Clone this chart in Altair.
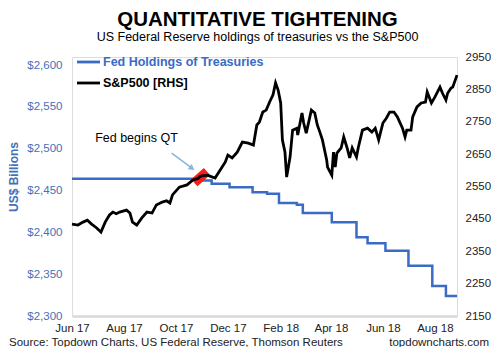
import altair as alt
import pandas as pd

FONT = "Liberation Sans"
BLUE = "#3A6BC5"
LBLUE = "#4470B8"

# Fed holdings of treasuries (US$ bn, left axis) - step series
fed_dates = ["2017-06-01", "2017-10-24", "2017-11-12", "2017-12-03", "2017-12-30",
             "2018-01-16", "2018-01-30", "2018-02-20", "2018-02-27", "2018-04-02",
             "2018-05-01", "2018-05-14", "2018-06-04", "2018-07-01", "2018-07-29",
             "2018-08-14", "2018-08-27"]
fed_values = [2464, 2462, 2458, 2454, 2448,
              2446, 2435, 2433, 2423, 2412,
              2394, 2387, 2378, 2360, 2336,
              2324, 2324]

# S&P500 (right axis)
sp_dates = ["2017-06-01", "2017-06-08", "2017-06-14", "2017-06-19", "2017-06-24", "2017-06-30",
            "2017-07-05", "2017-07-10", "2017-07-15", "2017-07-19", "2017-07-23", "2017-07-27",
            "2017-08-04", "2017-08-08", "2017-08-11", "2017-08-16", "2017-08-22", "2017-08-28",
            "2017-09-03", "2017-09-08", "2017-09-15", "2017-09-20", "2017-09-24", "2017-09-27",
            "2017-10-05", "2017-10-14", "2017-10-21", "2017-10-27", "2017-10-30", "2017-11-07",
            "2017-11-16", "2017-11-22", "2017-11-28", "2017-12-01", "2017-12-06", "2017-12-12",
            "2017-12-18", "2017-12-25", "2017-12-31", "2018-01-04", "2018-01-07", "2018-01-11",
            "2018-01-15", "2018-01-19", "2018-01-23", "2018-01-26", "2018-01-29", "2018-02-01",
            "2018-02-03", "2018-02-06", "2018-02-08", "2018-02-12", "2018-02-15", "2018-02-20",
            "2018-02-21", "2018-02-26", "2018-02-28", "2018-03-03", "2018-03-09", "2018-03-13",
            "2018-03-16", "2018-03-19", "2018-03-22", "2018-03-27", "2018-03-28", "2018-04-02",
            "2018-04-04", "2018-04-06", "2018-04-08", "2018-04-13", "2018-04-16", "2018-04-20",
            "2018-04-23", "2018-04-26", "2018-05-01", "2018-05-03", "2018-05-08", "2018-05-14",
            "2018-05-19", "2018-05-23", "2018-05-27", "2018-06-01", "2018-06-05", "2018-06-09",
            "2018-06-14", "2018-06-18", "2018-06-24", "2018-06-27", "2018-06-29", "2018-07-04",
            "2018-07-06", "2018-07-11", "2018-07-16", "2018-07-21", "2018-07-23", "2018-07-28",
            "2018-08-01", "2018-08-07", "2018-08-10", "2018-08-14", "2018-08-16", "2018-08-20",
            "2018-08-22", "2018-08-27"]
sp_values = [2434, 2431, 2440, 2446, 2434, 2422,
             2409, 2440, 2462, 2471, 2466, 2471,
             2477, 2468, 2440, 2431, 2453, 2471,
             2468, 2493, 2502, 2506, 2499, 2524,
             2548, 2555, 2570, 2575, 2582, 2585,
             2576, 2601, 2626, 2647, 2638, 2656,
             2687, 2684, 2678, 2740, 2749, 2780,
             2786, 2811, 2833, 2870, 2848, 2808,
             2694, 2657, 2579, 2641, 2724, 2730,
             2709, 2777, 2746, 2715, 2786, 2777,
             2740, 2718, 2694, 2632, 2610, 2585,
             2656, 2610, 2653, 2669, 2703, 2669,
             2638, 2669, 2641, 2669, 2724, 2730,
             2718, 2730, 2694, 2746, 2761, 2780,
             2780, 2765, 2730, 2703, 2724, 2724,
             2765, 2796, 2808, 2811, 2842, 2808,
             2826, 2857, 2838, 2817, 2838, 2854,
             2857, 2894]

x_ticks = [(2017, 6), (2017, 8), (2017, 10), (2017, 12), (2018, 2), (2018, 4), (2018, 6), (2018, 8)]
left_ticks = [2300, 2350, 2400, 2450, 2500, 2550, 2600]
right_ticks = [2150, 2250, 2350, 2450, 2550, 2650, 2750, 2850, 2950]

# annotation: QT start marker and arrow (in S&P axis units)
qt_marker_date = ["2017-10-30"]
qt_marker_value = [2579]
arrow_dates = ["2017-09-26", "2017-10-19"]
arrow_values = [2653, 2608]

fed = pd.DataFrame({"date": fed_dates, "value": fed_values})
sp = pd.DataFrame({"date": sp_dates, "value": sp_values})

x_enc = alt.X(
    "date:T",
    scale=alt.Scale(type="utc",
                    domain=[alt.DateTime(year=2017, month=6, date=1, utc=True),
                            alt.DateTime(year=2018, month=8, date=27, utc=True)]),
    axis=alt.Axis(values=[alt.DateTime(year=y, month=m, date=1, utc=True) for y, m in x_ticks],
                  format="%b %y", title=None, ticks=False, grid=False,
                  labelOverlap=False, labelFlush=False, labelAlign="center",
                  domainColor="#d9d9d9", domainWidth=2.5, labelPadding=6,
                  labelFontSize=11.5, labelColor="#222", labelFont=FONT),
)

y_left = alt.Y("value:Q",
               scale=alt.Scale(domain=[2300, 2609.6], nice=False, zero=False),
               axis=alt.Axis(values=left_ticks, format="$,.0f", title=None, ticks=False,
                             domain=False, grid=False, labelPadding=10,
                             labelFontSize=11.5, labelColor=LBLUE, labelFont=FONT))
y_right = alt.Y("value:Q",
                scale=alt.Scale(domain=[2150, 2950], nice=False, zero=False),
                axis=alt.Axis(values=right_ticks, format="d", orient="right", title=None,
                              ticks=False, domain=False, grid=False, labelPadding=8,
                              labelFontSize=11.5, labelColor="#222", labelFont=FONT))

fed_line = alt.Chart(fed).mark_line(color=BLUE, strokeWidth=2.5, interpolate="step-after").encode(
    x=x_enc, y=y_left)

marker = alt.Chart(pd.DataFrame({"date": qt_marker_date, "value": qt_marker_value})).mark_point(
    shape="M-1,-0.55L1,-0.55L1,0.55L-1,0.55Z", filled=True, color="#ff1a1a", opacity=1,
    size=290, angle=318, strokeWidth=0).encode(x=x_enc, y=y_right)

arrow_df = pd.DataFrame({"date": arrow_dates, "value": arrow_values})
arrow = alt.Chart(arrow_df).mark_line(color="#86b6dc", strokeWidth=1.5).encode(x=x_enc, y=y_right)
arrow_head = alt.Chart(arrow_df.iloc[[1]]).mark_point(
    shape="triangle", filled=True, color="#86b6dc", opacity=1, size=45, angle=127).encode(
    x=x_enc, y=y_right)

sp_line = alt.Chart(sp).mark_line(color="#000", strokeWidth=2.8).encode(x=x_enc, y=y_right)

left_group = alt.layer(fed_line)
right_group = alt.layer(marker, arrow, arrow_head, sp_line)


def txt(text, x, y, size, weight="normal", color="#000", align="center", angle=0):
    return alt.Chart(pd.DataFrame({"t": [text]})).mark_text(
        align=align, baseline="middle", fontSize=size, fontWeight=weight, color=color,
        font=FONT, angle=angle).encode(x=alt.value(x), y=alt.value(y), text="t:N")


def seg(x1, x2, y, color):
    return alt.Chart(pd.DataFrame({"a": [0]})).mark_rule(color=color, strokeWidth=2.8).encode(
        x=alt.value(x1), x2=alt.value(x2), y=alt.value(y))


texts = [
    txt("QUANTITATIVE TIGHTENING", 185.5, -37, 20.5, "bold"),
    txt("US Federal Reserve holdings of treasuries vs the S&P500", 185.5, -20, 12.5),
    seg(5, 28, 5, BLUE),
    txt("Fed Holdings of Treasuries", 31, 5, 12.5, "bold", BLUE, "left"),
    seg(5, 28, 26, "#000"),
    txt("S&P500 [RHS]", 31, 26, 12.5, "bold", "#000", "left"),
    txt("Fed begins QT", 64.5, 81, 12.5),
    txt("US$ Billions", -58, 120, 12, "bold", LBLUE, "center", 270),
    txt("Source: Topdown Charts, US Federal Reserve, Thomson Reuters", -63, 286, 11.5, "normal", "#222", "left"),
    txt("topdowncharts.com", 417, 286, 11.5, "normal", "#222", "right"),
]

chart = alt.layer(left_group, right_group, *texts).resolve_scale(y="independent").properties(
    width=385, height=259,
    autosize=alt.AutoSizeParams(type="none"),
    padding={"left": 64, "top": 49, "right": 34, "bottom": 31},
).configure_view(stroke=None).configure(background="white")

chart.save("out.html", embed_options={"renderer": "svg", "actions": False})
